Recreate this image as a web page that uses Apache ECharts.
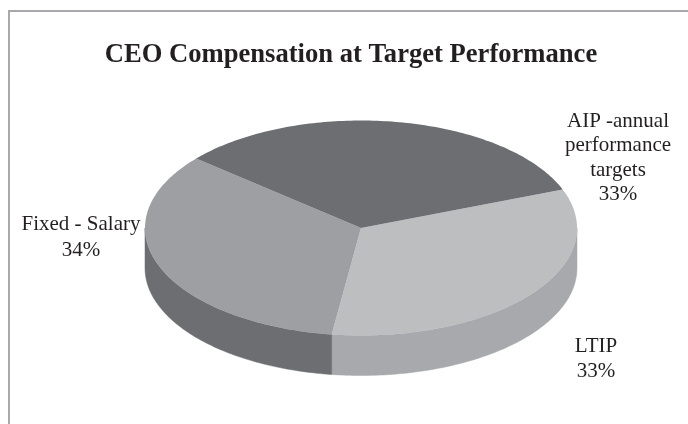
<!DOCTYPE html>
<html>
<head>
<meta charset="utf-8">
<style>
html,body{margin:0;padding:0;background:#fff;}
#main{width:688px;height:424px;}
</style>
<script src="https://cdn.jsdelivr.net/npm/echarts@6/dist/echarts.min.js"></script>
</head>
<body>
<div id="main"></div>
<script>
// data, clockwise from the AIP / LTIP edge
var titleText = 'CEO Compensation at Target Performance';
var names = ['LTIP', 'Fixed - Salary', 'AIP -annual\nperformance\ntargets'];
var values = [33, 34, 33];

// look of the fake 3d pie
var topColors = ['#bcbec0', '#9d9fa2', '#6d6e71'];
var sideColors = ['#a7a9ac', '#6d6e71', '#58595b'];
var labelX = [596, 81, 618];
var labelY = [334, 211, 109];
var labelLine = [25, 26, 24.5];
var cx = 361, cy = 228, rx = 216, ry = 107.5, depth = 40;
var startDeg = -21;

var total = values.reduce(function (a, b) { return a + b; }, 0);

function rimPoint(deg, dy) {
	var r = deg * Math.PI / 180;
	return [cx + rx * Math.cos(r), cy + ry * Math.sin(r) + (dy || 0)];
}

function sliceAngles(index) {
	var from = startDeg;
	for (var i = 0; i < index; i++) {
		from += values[i] / total * 360;
	}
	return [from, from + values[index] / total * 360];
}

// rim sampled one degree at a time
function arcPoints(from, to, dy) {
	var pts = [];
	for (var d = from; d < to; d += 1) {
		pts.push(rimPoint(d, dy));
	}
	pts.push(rimPoint(to, dy));
	return pts;
}

function renderSlice(params, api) {
	var i = params.dataIndex;
	var a = sliceAngles(i);
	var children = [];

	// side wall, only the front half of the rim shows
	var sFrom = Math.max(a[0], 0), sTo = Math.min(a[1], 180);
	if (sTo > sFrom) {
		children.push({
			type: 'polygon',
			shape: { points: arcPoints(sFrom, sTo, 0).concat(arcPoints(sFrom, sTo, depth).reverse()) },
			style: { fill: sideColors[i], stroke: sideColors[i], lineWidth: 0.5 }
		});
	}
	children.push({
		type: 'polygon',
		z2: 2,
		shape: { points: [[cx, cy]].concat(arcPoints(a[0], a[1], 0)) },
		style: { fill: topColors[i] }
	});
	var pct = Math.round(api.value(0) / total * 100) + '%';
	children.push({
		type: 'text',
		z2: 3,
		x: labelX[i],
		y: labelY[i],
		style: {
			text: names[i] + '\n' + pct,
			fontFamily: 'Liberation Serif',
			fontSize: 21,
			lineHeight: labelLine[i],
			fill: '#231f20',
			align: 'center',
			verticalAlign: 'top'
		}
	});
	return { type: 'group', children: children };
}

var chart = echarts.init(document.getElementById('main'), null, { renderer: 'canvas' });
chart.setOption({
	animation: false,
	backgroundColor: '#ffffff',
	title: {
		text: titleText,
		left: 346,
		top: 37,
		textAlign: 'center',
		textStyle: {
			fontFamily: 'Liberation Serif',
			fontWeight: 'bold',
			fontSize: 26.6,
			color: '#231f20'
		}
	},
	graphic: [{
		// only the top and left edges of the frame are in the crop
		type: 'polyline',
		shape: { points: [[9, 424], [9, 11], [688, 11]] },
		style: { stroke: '#a7a9ac', lineWidth: 2, fill: null }
	}],
	series: [{
		type: 'custom',
		coordinateSystem: 'none',
		renderItem: renderSlice,
		data: values.map(function (v, i) { return { name: names[i], value: [v] }; })
	}]
});
</script>
</body>
</html>
